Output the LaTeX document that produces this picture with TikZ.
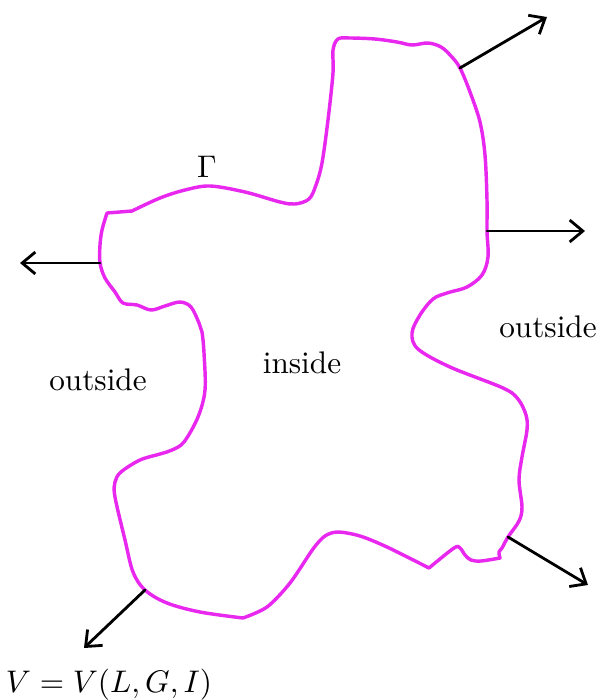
\documentclass[tikz,border=0pt]{standalone}
\usetikzlibrary{arrows.meta}
\definecolor{curvemag}{RGB}{232,40,238}
\begin{document}
\begin{tikzpicture}[x=0.32pt,y=-0.32pt,
  bdry/.style={draw=curvemag,line width=1.1pt,line join=round,line cap=round},
  normal/.style={draw=black,line width=0.9pt,line cap=round,-{Straight Barb[length=4.2pt,width=7pt,line width=0.9pt]}},
  lbl/.style={inner sep=0pt,font=\normalsize}]
\useasboundingbox (0,0) rectangle (600,700);
% boundary Gamma
\draw[bdry] (107,213) -- (132,211)
 -- plot[smooth,tension=0.55] coordinates {(132,211) (160,198) (185,190) (210,186) (245,192) (280,202) (295,204) (309,199) (316,185) (322,163) (328,120) (333,73) (333,50) (338,39) (350,38) (375,39) (397,42) (412,45) (428,43) (441,47) (451,56) (460,68) (470,92) (480,122) (485,155) (487,200) (487,231) (488,257) (482,275) (467,287) (447,293) (433,299) (420,315) (412,333) (418,349) (450,367) (503,388) (518,399) (526,415) (527,430) (522,457) (519,480) (522,507) (519,521) (508,537) (502,548) (499,552) (500,558)}
 -- plot[smooth,tension=0.55] coordinates {(500,558) (481,561) (471,560) (465,555) (460,548) (454,548) (429,568)}
 -- plot[smooth,tension=0.5] coordinates {(429,568) (387,547) (360,536) (338,532) (325,536) (313,549) (290,583) (267,607) (243,618)}
 -- plot[smooth,tension=0.55] coordinates {(243,618) (200,612) (167,603) (145,590) (133,572) (125,540) (115,497) (115,482) (121,472) (140,460) (160,454) (172,450) (184,442) (198,417) (205,390) (204,353) (202,332) (199,323) (191,307) (180,302) (165,306) (151,310) (137,305) (123,303) (115,292) (105,278) (100,263) (100,245) (102,230) (107,213)};
% normal arrows
\coordinate (p1) at (460,68);  \coordinate (q1) at (547,17);
\coordinate (p2) at (487,231); \coordinate (q2) at (585,231);
\coordinate (p3) at (508,537); \coordinate (q3) at (588,585);
\coordinate (p4) at (145,590); \coordinate (q4) at (84,648);
\coordinate (p5) at (100,263); \coordinate (q5) at (20,263);
\draw[normal] (p1) -- (q1);
\draw[normal] (p2) -- (q2);
\draw[normal] (p3) -- (q3);
\draw[normal] (p4) -- (q4);
\draw[normal] (p5) -- (q5);
% labels
\node[lbl] (gamma) at (207,167) {$\Gamma$};
\node[lbl] (outL) at (98,380) {outside};
\node[lbl] (inside) at (302,363) {inside};
\node[lbl] (outR) at (548,327) {outside};
\node[lbl] (vlab) at (109,685) {$V=V(L,G,I)$};
\end{tikzpicture}
\end{document}
